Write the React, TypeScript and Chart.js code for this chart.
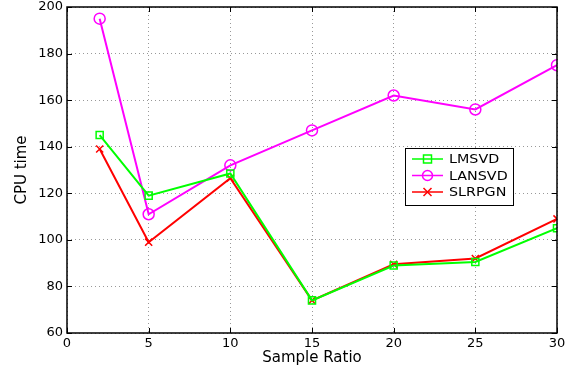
import React, { useEffect, useRef } from "react";
import { Chart, registerables } from "chart.js";

Chart.register(...registerables);

const sampleRatios = [2, 5, 10, 15, 20, 25, 30];
const lmsvd = [145, 119, 128.5, 74, 89, 90.5, 105];
const lansvd = [195, 111, 132, 147, 162, 156, 175];
const slrpgn = [139, 99, 126.5, 74, 89.5, 92, 109];
const seriesNames = ["LMSVD", "LANSVD", "SLRPGN"];
const seriesColors = ["#00ff00", "#ff00ff", "#ff0000"];
const seriesMarkers = ["rect", "circle", "crossRot"];
const xTicks = [0, 5, 10, 15, 20, 25, 30];
const yTicks = [60, 80, 100, 120, 140, 160, 180, 200];

const FONT = "'DejaVu Sans', sans-serif";

const framePlugin = {
  id: "frame",
  afterDatasetsDraw(chart: any) {
    const { ctx, chartArea } = chart;
    const { left, right, top, bottom } = chartArea;
    const xs = chart.scales.x;
    const ys = chart.scales.y;
    ctx.save();
    ctx.strokeStyle = "#000";
    ctx.lineWidth = 1;
    ctx.beginPath();
    for (const v of xTicks) {
      const px = Math.round(xs.getPixelForValue(v)) + 0.5;
      ctx.moveTo(px, bottom);
      ctx.lineTo(px, bottom - 5);
      ctx.moveTo(px, top);
      ctx.lineTo(px, top + 5);
    }
    for (const v of yTicks) {
      const py = Math.round(ys.getPixelForValue(v)) + 0.5;
      ctx.moveTo(left, py);
      ctx.lineTo(left + 5, py);
      ctx.moveTo(right, py);
      ctx.lineTo(right - 5, py);
    }
    ctx.stroke();
    ctx.lineWidth = 1.5;
    ctx.strokeRect(left, top, right - left, bottom - top);

    // legend
    const lx = 405, ly = 148, lw = 108, lh = 57;
    ctx.fillStyle = "#fff";
    ctx.fillRect(lx, ly, lw, lh);
    ctx.lineWidth = 1;
    ctx.strokeStyle = "#000";
    ctx.strokeRect(lx + 0.5, ly + 0.5, lw, lh);
    ctx.font = `13px ${FONT}`;
    ctx.textBaseline = "middle";
    ctx.textAlign = "left";
    seriesNames.forEach((name, i) => {
      const y = ly + 11 + i * 16.5;
      ctx.strokeStyle = seriesColors[i];
      ctx.lineWidth = 1.5;
      ctx.beginPath();
      ctx.moveTo(lx + 7, y);
      ctx.lineTo(lx + 38, y);
      ctx.stroke();
      const cx = lx + 22.5;
      ctx.beginPath();
      if (seriesMarkers[i] === "rect") {
        ctx.rect(cx - 4, y - 4, 8, 8);
      } else if (seriesMarkers[i] === "circle") {
        ctx.arc(cx, y, 5, 0, Math.PI * 2);
      } else {
        ctx.moveTo(cx - 4, y - 4);
        ctx.lineTo(cx + 4, y + 4);
        ctx.moveTo(cx + 4, y - 4);
        ctx.lineTo(cx - 4, y + 4);
      }
      ctx.stroke();
      ctx.fillStyle = "#000";
      ctx.save();
      ctx.translate(lx + 44, y + 1);
      ctx.scale(1.1, 1);
      ctx.fillText(name, 0, 0);
      ctx.restore();
    });
    ctx.restore();
  },
};

export default function App() {
  const ref = useRef<HTMLCanvasElement>(null);
  useEffect(() => {
    document.body.style.margin = "0";
    const data = [lmsvd, lansvd, slrpgn];
    const chart = new Chart(ref.current!, {
      type: "line",
      data: {
        datasets: seriesNames.map((name, i) => ({
          label: name,
          data: sampleRatios.map((x, j) => ({ x, y: data[i][j] })),
          borderColor: seriesColors[i],
          backgroundColor: "transparent",
          borderWidth: 2,
          pointStyle: seriesMarkers[i] as any,
          pointRadius: i === 1 ? 5.5 : 5,
          pointBorderWidth: 1.5,
          pointBorderColor: seriesColors[i],
          pointBackgroundColor: "transparent",
          tension: 0,
        })),
      },
      options: {
        responsive: false,
        animation: false,
        layout: { padding: { top: 5, right: 12, left: 0, bottom: 0 } },
        plugins: { legend: { display: false }, tooltip: { enabled: false } },
        scales: {
          x: {
            type: "linear",
            min: 0,
            max: 30,
            afterBuildTicks: (s: any) => {
              s.ticks = xTicks.map((v) => ({ value: v }));
            },
            afterFit: (s: any) => {
              s.height = 37;
              s.paddingLeft = 0;
              s.paddingRight = 0;
            },
            grid: { color: "#999", lineWidth: 1, drawTicks: false },
            border: { display: false, dash: [1, 3] },
            ticks: { color: "#000", font: { family: FONT, size: 13 }, padding: 3, maxRotation: 0 },
            title: { display: true, text: "Sample Ratio", color: "#000", font: { family: FONT, size: 15 }, padding: { top: 0, bottom: 3 } },
          },
          y: {
            type: "linear",
            min: 60,
            max: 200,
            afterBuildTicks: (s: any) => {
              s.ticks = yTicks.map((v) => ({ value: v }));
            },
            afterFit: (s: any) => {
              s.width = 67;
              s.paddingTop = 0;
              s.paddingBottom = 0;
            },
            grid: { color: "#999", lineWidth: 1, drawTicks: false },
            border: { display: false, dash: [1, 3] },
            ticks: { color: "#000", font: { family: FONT, size: 13 }, padding: 4 },
            title: { display: true, text: "CPU time", color: "#000", font: { family: FONT, size: 15 }, padding: { top: 13, bottom: 0 } },
          },
        },
      },
      plugins: [framePlugin],
    });
    return () => chart.destroy();
  }, []);
  return <canvas ref={ref} width={569} height={370} style={{ display: "block" }} />;
}
